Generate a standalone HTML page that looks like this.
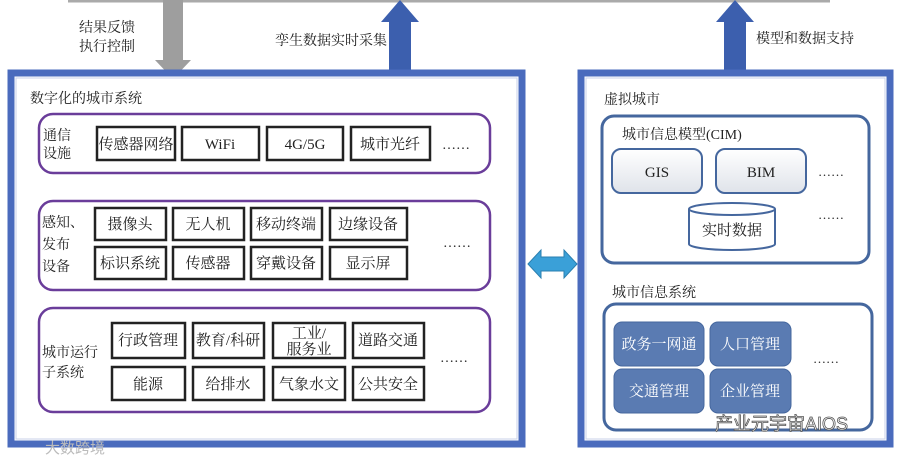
<!DOCTYPE html>
<html><head><meta charset="utf-8"><style>
html,body{margin:0;padding:0;background:#fff}
svg{display:block}
text{font-family:"Liberation Serif","Noto Serif CJK SC",serif;fill:#222}
</style></head><body>
<svg width="901" height="462" viewBox="0 0 901 462" xmlns="http://www.w3.org/2000/svg">
<rect x="0" y="0" width="901" height="462" fill="#fff"/>
<line x1="68" y1="1" x2="830" y2="1" stroke="#aaa" stroke-width="3"/>
<polygon points="163,0 183,0 183,60 191,60 173,79 155,60 163,60" fill="#9e9e9e"/>
<polygon points="389,72 411,72 411,22 419,22 400,0 381,22 389,22" fill="#3c5fae"/>
<polygon points="724,72 746,72 746,22 754,22 735,0 716,22 724,22" fill="#3c5fae"/>
<text x="79" y="32" font-size="14">结果反馈</text>
<text x="79" y="51" font-size="14">执行控制</text>
<text x="275" y="45" font-size="14">孪生数据实时采集</text>
<text x="756" y="43" font-size="14">模型和数据支持</text>

<rect x="11" y="73" width="511" height="371" fill="#fff" stroke="#4a6bbd" stroke-width="7"/>
<rect x="16" y="78" width="501" height="361" fill="none" stroke="#c8d2ea" stroke-width="1"/>
<text x="30" y="103" font-size="14">数字化的城市系统</text>

<rect x="39" y="114" width="451" height="59" rx="14" fill="#fff" stroke="#6a3d9a" stroke-width="2.5"/>
<text x="43" y="140" font-size="14">通信</text>
<text x="43" y="158" font-size="14">设施</text>
<g fill="#fff" stroke="#222" stroke-width="2.5">
<rect x="97" y="127" width="78" height="33"/><rect x="182" y="127" width="77" height="33"/>
<rect x="267" y="127" width="76" height="33"/><rect x="351" y="127" width="79" height="33"/>
</g>
<g font-size="15" text-anchor="middle">
<text x="136" y="149">传感器网络</text><text x="220" y="149">WiFi</text>
<text x="305" y="149">4G/5G</text><text x="390" y="149">城市光纤</text>
</g>
<text x="442" y="149" font-size="14">……</text>

<rect x="39" y="201" width="451" height="89" rx="14" fill="#fff" stroke="#6a3d9a" stroke-width="2.5"/>
<text x="42" y="227" font-size="14">感知、</text>
<text x="42" y="249" font-size="14">发布</text>
<text x="42" y="271" font-size="14">设备</text>
<g fill="#fff" stroke="#222" stroke-width="2.5">
<rect x="95" y="208" width="71" height="32"/><rect x="173" y="208" width="71" height="32"/>
<rect x="251" y="208" width="71" height="32"/><rect x="330" y="208" width="77" height="32"/>
<rect x="95" y="247" width="71" height="32"/><rect x="173" y="247" width="71" height="32"/>
<rect x="251" y="247" width="71" height="32"/><rect x="330" y="247" width="77" height="32"/>
</g>
<g font-size="15" text-anchor="middle">
<text x="130" y="229">摄像头</text><text x="208" y="229">无人机</text><text x="286" y="229">移动终端</text><text x="368" y="229">边缘设备</text>
<text x="130" y="268">标识系统</text><text x="208" y="268">传感器</text><text x="286" y="268">穿戴设备</text><text x="368" y="268">显示屏</text>
</g>
<text x="443" y="247" font-size="14">……</text>

<rect x="39" y="308" width="451" height="104" rx="14" fill="#fff" stroke="#6a3d9a" stroke-width="2.5"/>
<text x="42" y="357" font-size="14">城市运行</text>
<text x="42" y="377" font-size="14">子系统</text>
<g fill="#fff" stroke="#222" stroke-width="2.5">
<rect x="112" y="323" width="73" height="35"/><rect x="193" y="323" width="71" height="35"/>
<rect x="273" y="323" width="72" height="35"/><rect x="353" y="323" width="71" height="35"/>
<rect x="112" y="367" width="73" height="33"/><rect x="193" y="367" width="71" height="33"/>
<rect x="273" y="367" width="72" height="33"/><rect x="353" y="367" width="71" height="33"/>
</g>
<g font-size="15" text-anchor="middle">
<text x="148" y="345">行政管理</text><text x="228" y="345">教育/科研</text>
<text x="309" y="338">工业/</text><text x="309" y="354">服务业</text><text x="388" y="345">道路交通</text>
<text x="148" y="389">能源</text><text x="228" y="389">给排水</text><text x="309" y="389">气象水文</text><text x="388" y="389">公共安全</text>
</g>
<text x="440" y="362" font-size="14">……</text>
<text x="45" y="453" font-size="15" style="fill:#bbb;font-family:'Liberation Sans','Noto Sans CJK SC',sans-serif">大数跨境</text>

<polygon points="528,264 541,250 541,257 564,257 564,250 577,264 564,278 564,271 541,271 541,278" fill="#3aa0d8" stroke="#2a7fb0" stroke-width="1"/>

<rect x="581" y="73" width="309" height="371" fill="#fff" stroke="#4a6bbd" stroke-width="7"/>
<rect x="586" y="78" width="299" height="361" fill="none" stroke="#c8d2ea" stroke-width="1"/>
<text x="604" y="104" font-size="14">虚拟城市</text>
<rect x="602" y="116" width="267" height="147" rx="12" fill="#fff" stroke="#45679e" stroke-width="3"/>
<text x="622" y="139" font-size="14">城市信息模型(CIM)</text>
<defs><linearGradient id="g" x1="0" y1="0" x2="0" y2="1"><stop offset="0" stop-color="#fff"/><stop offset="1" stop-color="#dfe3ea"/></linearGradient></defs>
<rect x="612" y="149" width="90" height="44" rx="9" fill="url(#g)" stroke="#45679e" stroke-width="2"/>
<rect x="716" y="149" width="90" height="44" rx="9" fill="url(#g)" stroke="#45679e" stroke-width="2"/>
<text x="657" y="177" font-size="15" text-anchor="middle">GIS</text>
<text x="761" y="177" font-size="15" text-anchor="middle">BIM</text>
<text x="818" y="176" font-size="13">……</text>
<text x="818" y="219" font-size="13">……</text>
<path d="M689,209 L689,244 A43,6 0 0 0 775,244 L775,209" fill="#fff" stroke="#45679e" stroke-width="2"/>
<ellipse cx="732" cy="209" rx="43" ry="6" fill="#fff" stroke="#45679e" stroke-width="2"/>
<text x="732" y="235" font-size="15" text-anchor="middle">实时数据</text>

<text x="612" y="297" font-size="14">城市信息系统</text>
<rect x="604" y="304" width="268" height="126" rx="12" fill="#fff" stroke="#45679e" stroke-width="3"/>
<g fill="#5a7bb2" stroke="#45679e" stroke-width="1">
<rect x="614" y="322" width="90" height="44" rx="8"/><rect x="710" y="322" width="81" height="44" rx="8"/>
<rect x="614" y="369" width="90" height="44" rx="8"/><rect x="710" y="369" width="81" height="44" rx="8"/>
</g>
<g font-size="15" text-anchor="middle">
<text x="659" y="349" style="fill:#fff">政务一网通</text><text x="750" y="349" style="fill:#fff">人口管理</text>
<text x="659" y="396" style="fill:#fff">交通管理</text><text x="750" y="396" style="fill:#fff">企业管理</text>
</g>
<text x="813" y="363" font-size="13">……</text>
<text x="715" y="430" font-size="18" style="fill:#fff;stroke:#555;stroke-width:0.8;font-family:'Liberation Sans','Noto Sans CJK SC',sans-serif">产业元宇宙AIOS</text>
</svg>
</body></html>
